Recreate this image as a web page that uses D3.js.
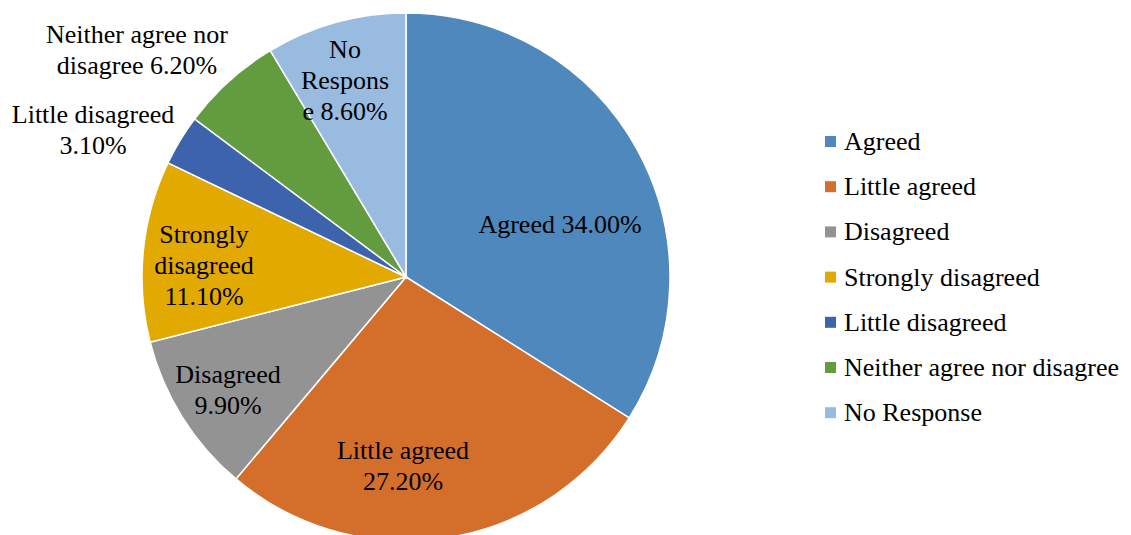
<!DOCTYPE html>
<html>
<head>
<meta charset="utf-8">
<script src="https://cdn.jsdelivr.net/npm/d3@7"></script>
</head>
<body style="margin:0">
<svg id="chart" width="1131" height="535"></svg>
<script>
// Data
const categories = ["Agreed", "Little agreed", "Disagreed", "Strongly disagreed",
  "Little disagreed", "Neither agree nor disagree", "No Response"];
const values = [34.0, 27.2, 9.9, 11.1, 3.1, 6.2, 8.6];
const colors = ["#4f88bc", "#d46e2b", "#939393", "#e2a900", "#3c63ac", "#629c3f", "#9abbe0"];
const labelLines = [
  ["Agreed 34.00%"],
  ["Little agreed", "27.20%"],
  ["Disagreed", "9.90%"],
  ["Strongly", "disagreed", "11.10%"],
  ["Little disagreed", "3.10%"],
  ["Neither agree nor", "disagree 6.20%"],
  ["No", "Respons", "e 8.60%"]
];

// Label anchor points (center of the text block), like Excel's best-fit placement
const labelPos = [[560, 224], [403, 465], [228, 389], [204, 265], [93, 129], [137, 49], [345, 80]];

const svg = d3.select("#chart");
const cx = 406, cy = 277, radius = 264;
const fontSize = 26, lineH = 31;

const pie = d3.pie().sort(null).value((d) => d)(values);
const arc = d3.arc().innerRadius(0).outerRadius(radius);

const g = svg.append("g").attr("transform", `translate(${cx}, ${cy})`);

g.selectAll("path")
  .data(pie)
  .enter()
  .append("path")
  .attr("d", arc)
  .attr("fill", (d, i) => colors[i])
  .attr("stroke", "#fff")
  .attr("stroke-width", 1.5);

// Slice labels
labelLines.forEach((lines, i) => {
  const [x, y] = labelPos[i];
  const top = y - ((lines.length - 1) * lineH) / 2;
  lines.forEach((ln, j) => {
    svg.append("text")
      .attr("x", x)
      .attr("y", top + j * lineH + 9)
      .attr("text-anchor", "middle")
      .style("font-family", "\"Liberation Serif\"")
      .style("font-size", fontSize + "px")
      .text(ln);
  });
});

// Legend
svg.selectAll("rect.key")
  .data(categories)
  .enter()
  .append("rect")
  .attr("class", "key")
  .attr("x", 825)
  .attr("y", (d, i) => 136 + i * 45.2)
  .attr("width", 11)
  .attr("height", 11)
  .attr("fill", (d, i) => colors[i]);

svg.selectAll("text.key")
  .data(categories)
  .enter()
  .append("text")
  .attr("class", "key")
  .attr("x", 844)
  .attr("y", (d, i) => 150 + i * 45.2)
  .style("font-family", "\"Liberation Serif\"")
  .style("font-size", fontSize + "px")
  .text((d) => d);
</script>
</body>
</html>
